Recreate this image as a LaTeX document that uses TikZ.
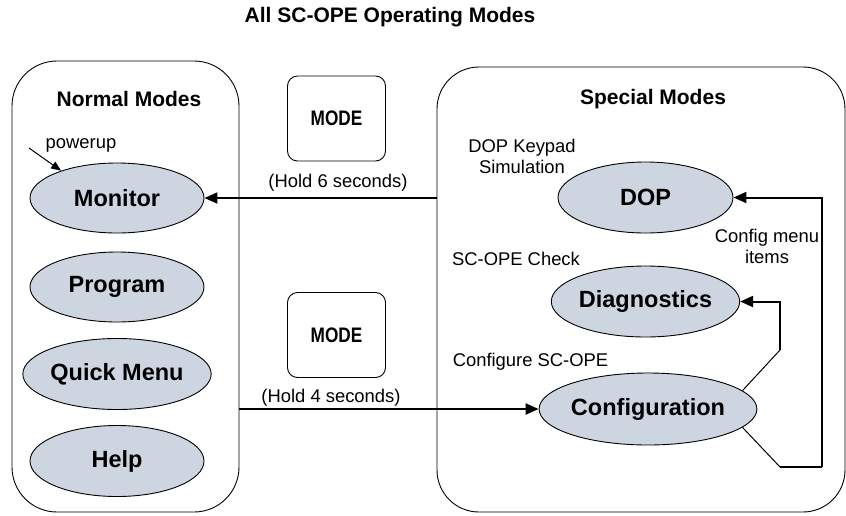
\documentclass[tikz,border=0pt]{standalone}
\usepackage{fontspec}
\usepackage{graphicx}
\setmainfont{Liberation Sans}
\usetikzlibrary{arrows.meta,shapes.geometric}
\definecolor{ellfill}{RGB}{205,214,224}
\tikzset{
  modebox/.style={draw, line width=0.9pt, rounded corners=45pt},
  st/.style={ellipse, draw, line width=0.9pt, fill=ellfill, inner sep=0pt,
     font=\bfseries\fontsize{23.5}{26}\selectfont},
  keybox/.style={draw, line width=0.9pt, rounded corners=10pt, minimum width=98pt,
     minimum height=85pt, inner sep=0pt},
  hdr/.style={font=\bfseries\fontsize{21}{24}\selectfont, inner sep=0pt},
  lbl/.style={font=\fontsize{18.4}{21}\selectfont, inner sep=0pt, align=center},
  conn/.style={line width=2pt, -{Triangle[length=13pt,width=11pt]}},
  plain/.style={line width=2pt},
  thin/.style={line width=1pt},
}
\begin{document}
\begin{tikzpicture}[x=1pt,y=-1pt]
\useasboundingbox (0,0) rectangle (846,515);
% title
\node[hdr] (title) at (390,17) {All SC-OPE Operating Modes};
% group boxes
\draw[modebox] (12,61) rectangle (239,512);
\coordinate (lbE) at (239,300);
\draw[modebox, rounded corners=42pt] (437,67) rectangle (845,512);
\coordinate (rbW) at (437,300);
\node[hdr] (normal) at (129,99) {Normal Modes};
\node[hdr] (special) at (653,99) {Special Modes};
% normal modes
\node[st, minimum width=174pt, minimum height=70pt] (mon) at (117,198) {Monitor};
\node[st, minimum width=174pt, minimum height=70pt] (prog) at (117,287) {Program};
\node[st, minimum width=174pt, minimum height=71pt] (quick) at (117,374) {Quick Menu};
\node[st, minimum width=174pt, minimum height=71pt] (help) at (117,461) {Help};
\node[lbl] (pwr) at (81,145) {powerup};
\coordinate (pstart) at (29,148);
\draw[thin, -{Triangle[length=10pt,width=8pt]}] (pstart) -- (mon.154);
% special modes
\node[st, minimum width=175pt, minimum height=71pt] (dop) at (645.5,197.5) {DOP};
\node[st, minimum width=175pt, minimum height=71pt] (diag) at (645.5,301.5) {Diagnostics};
\node[st, minimum width=204pt, minimum height=72pt] (conf) at (648,409) {Configuration};
\node[lbl] (dopl) at (522,156.5) {DOP Keypad\\Simulation};
\node[lbl] (chk) at (516,259) {SC-OPE Check};
\node[lbl] (cfgl) at (530.5,362) {Configure SC-OPE};
\node[lbl] (cmi) at (767,246.5) {Config menu\\items};
% MODE keys
\node[keybox] (key1) at (336.5,118.5) {\bfseries\fontsize{21}{24}\selectfont\scalebox{0.82}[1]{MODE}};
\node[keybox] (key2) at (336.5,335) {\bfseries\fontsize{21}{24}\selectfont\scalebox{0.82}[1]{MODE}};
\node[lbl] (h6) at (338,183) {(Hold 6 seconds)};
\node[lbl] (h4) at (331,398) {(Hold 4 seconds)};
% transitions
\draw[conn] (mon -| rbW) -- (mon.east);
\draw[conn] (conf -| lbE) -- (conf.west);
\coordinate (k1) at (780,350);
\coordinate (k2) at (780,467);
\coordinate (k3) at (822,467);
\draw[thin] (conf.11) -- (k1);
\draw[conn] (k1) |- (diag.east);
\draw[thin] (conf.-11) -- (k2);
\draw[plain] (k2) -- (k3);
\draw[conn] (k3) |- (dop.east);
\end{tikzpicture}
\end{document}
